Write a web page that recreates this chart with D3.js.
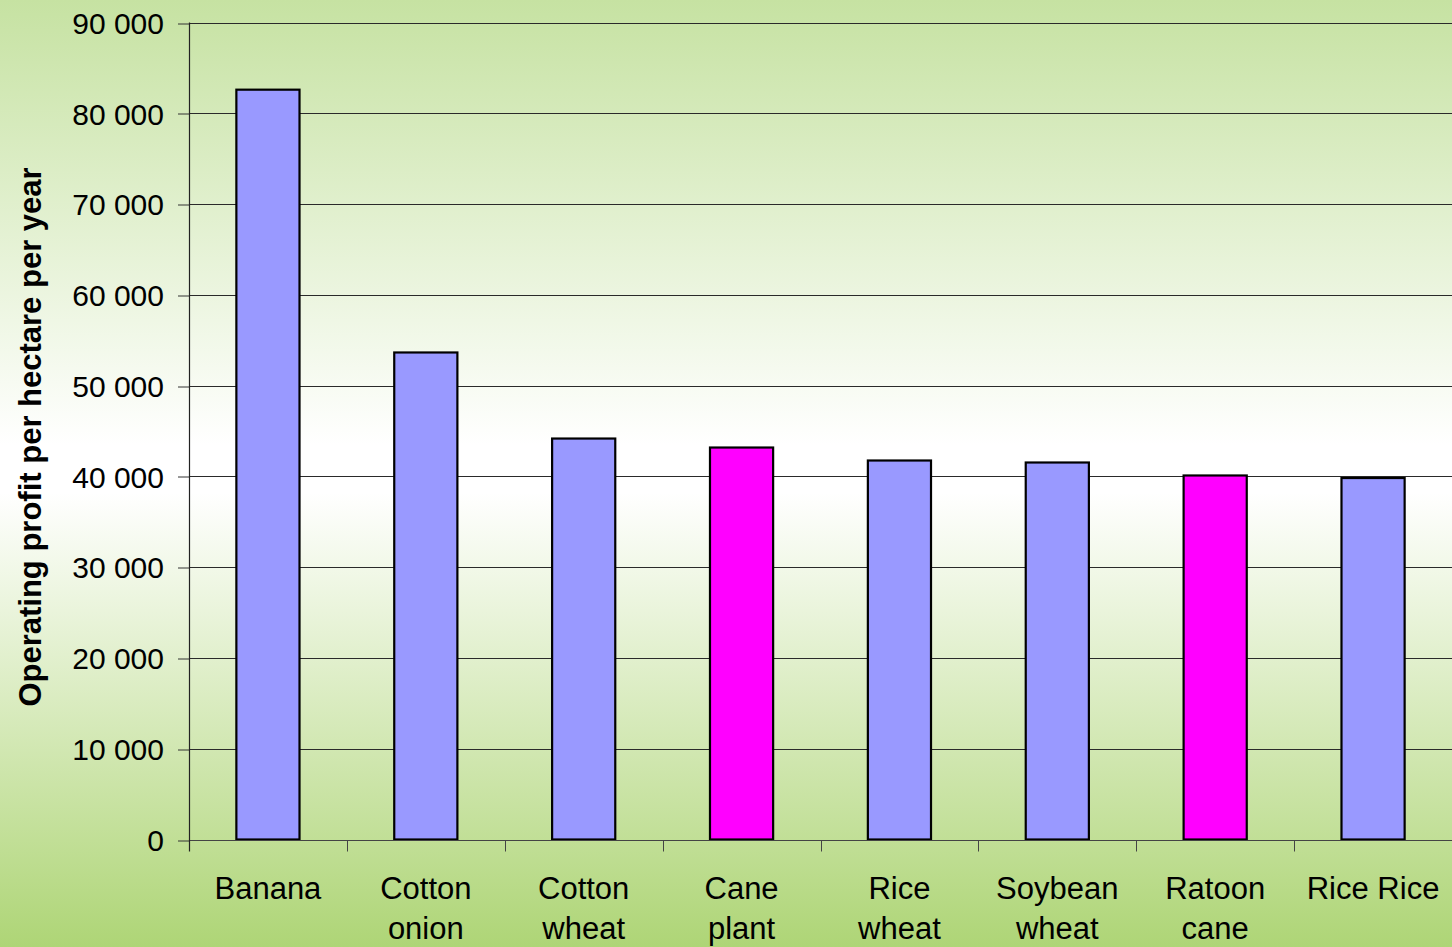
<!DOCTYPE html>
<html>
<head>
<meta charset="utf-8">
<script src="https://cdn.jsdelivr.net/npm/d3@7"></script>
<style>
  html, body { margin: 0; padding: 0; overflow: hidden; }
  svg { display: block; }
  text { font-family: "Liberation Sans", Arial, sans-serif; }
</style>
</head>
<body>
<svg id="chart" width="1452" height="947"></svg>
<script>
// Crop systems and their operating profit per hectare per year
const categories = ["Banana", "Cotton onion", "Cotton wheat", "Cane plant", "Rice wheat", "Soybean wheat", "Ratoon cane", "Rice Rice"];
const labelLines = [["Banana"], ["Cotton", "onion"], ["Cotton", "wheat"], ["Cane", "plant"], ["Rice", "wheat"], ["Soybean", "wheat"], ["Ratoon", "cane"], ["Rice Rice"]];
const profits = [82600, 53650, 44170, 43180, 41750, 41530, 40100, 39820];
const isCane = [false, false, false, true, false, false, true, false];
const yTicks = [0, 10000, 20000, 30000, 40000, 50000, 60000, 70000, 80000, 90000];

const W = 1452, H = 947;
const margin = { left: 189, right: 0, top: 22.5, bottom: 107.5 };
const svg = d3.select("#chart");

// background gradient
const defs = svg.append("defs");
const grad = defs.append("linearGradient").attr("id", "bg").attr("x1", 0).attr("y1", 0).attr("x2", 0).attr("y2", 1);
grad.append("stop").attr("offset", "0%").attr("stop-color", "#c6e2a2");
grad.append("stop").attr("offset", "47%").attr("stop-color", "#ffffff");
grad.append("stop").attr("offset", "52%").attr("stop-color", "#ffffff");
grad.append("stop").attr("offset", "100%").attr("stop-color", "#aed576");
svg.append("rect").attr("width", W).attr("height", H).attr("fill", "url(#bg)");

const x = d3.scaleBand().domain(categories).range([margin.left, W - margin.right]).paddingInner(0.6).paddingOuter(0.3);
const band = d3.scaleBand().domain(categories).range([margin.left, W - margin.right]);
const y = d3.scaleLinear().domain([0, 90000]).range([H - margin.bottom, margin.top]);

const fmt = v => d3.format(",")(v).replace(/,/g, " ");

// gridlines + y ticks
const yAxis = d3.axisLeft(y).tickValues(yTicks).tickSize(11).tickPadding(14).tickFormat(fmt);
const gy = svg.append("g").attr("transform", `translate(${margin.left},0)`).call(yAxis);
gy.select(".domain").remove();
gy.selectAll(".tick line").attr("stroke", "#333").attr("stroke-width", 1);
gy.selectAll(".tick text").attr("font-size", 30).attr("fill", "#000")
  .attr("dy", "0.36em")
  .attr("font-family", "'Liberation Sans', Arial, sans-serif");

svg.append("g").selectAll("line").data(yTicks.filter(d => d > 0)).join("line")
  .attr("x1", margin.left).attr("x2", W)
  .attr("y1", d => Math.round(y(d)) + 0.5).attr("y2", d => Math.round(y(d)) + 0.5)
  .attr("stroke", "#2a2a2a").attr("stroke-width", 1.2);
gy.selectAll(".tick line").attr("transform", d => `translate(0,${Math.round(y(d)) + 0.5 - y(d)})`);

// bars
svg.append("g").selectAll("rect").data(categories).join("rect")
  .attr("x", d => x(d))
  .attr("width", x.bandwidth())
  .attr("y", (d, i) => y(profits[i]))
  .attr("height", (d, i) => y(0) - y(profits[i]))
  .attr("fill", (d, i) => isCane[i] ? "#ff00ff" : "#9999ff")
  .attr("stroke", "#000").attr("stroke-width", 2.2);

// x axis baseline and category separators
const base = Math.round(y(0)) + 0.5;
svg.append("line").attr("x1", margin.left).attr("x2", W).attr("y1", base).attr("y2", base)
  .attr("stroke", "#444").attr("stroke-width", 1.2);
svg.append("g").selectAll("line").data(categories.slice(1)).join("line")
  .attr("x1", d => Math.round(band(d)) + 0.5).attr("x2", d => Math.round(band(d)) + 0.5)
  .attr("y1", base).attr("y2", base + 11)
  .attr("stroke", "#444").attr("stroke-width", 1);
// y axis line
svg.append("line").attr("x1", margin.left + 0.5).attr("x2", margin.left + 0.5)
  .attr("y1", y(90000)).attr("y2", base + 11)
  .attr("stroke", "#222").attr("stroke-width", 1.2);

// category labels
const lab = svg.append("g").selectAll("text").data(categories).join("text")
  .attr("x", d => band(d) + band.bandwidth() / 2)
  .attr("y", 899)
  .attr("text-anchor", "middle")
  .attr("font-size", 31).attr("fill", "#000");
lab.each(function (d, i) {
  const t = d3.select(this);
  labelLines[i].forEach((ln, j) => {
    t.append("tspan").attr("x", band(d) + band.bandwidth() / 2).attr("dy", j === 0 ? 0 : 40).text(ln);
  });
});

// y axis title
svg.append("text")
  .attr("transform", `translate(41,437) rotate(-90)`)
  .attr("text-anchor", "middle")
  .attr("font-size", 31).attr("font-weight", "bold").attr("fill", "#000")
  .text("Operating profit per hectare per year");
</script>
</body>
</html>
